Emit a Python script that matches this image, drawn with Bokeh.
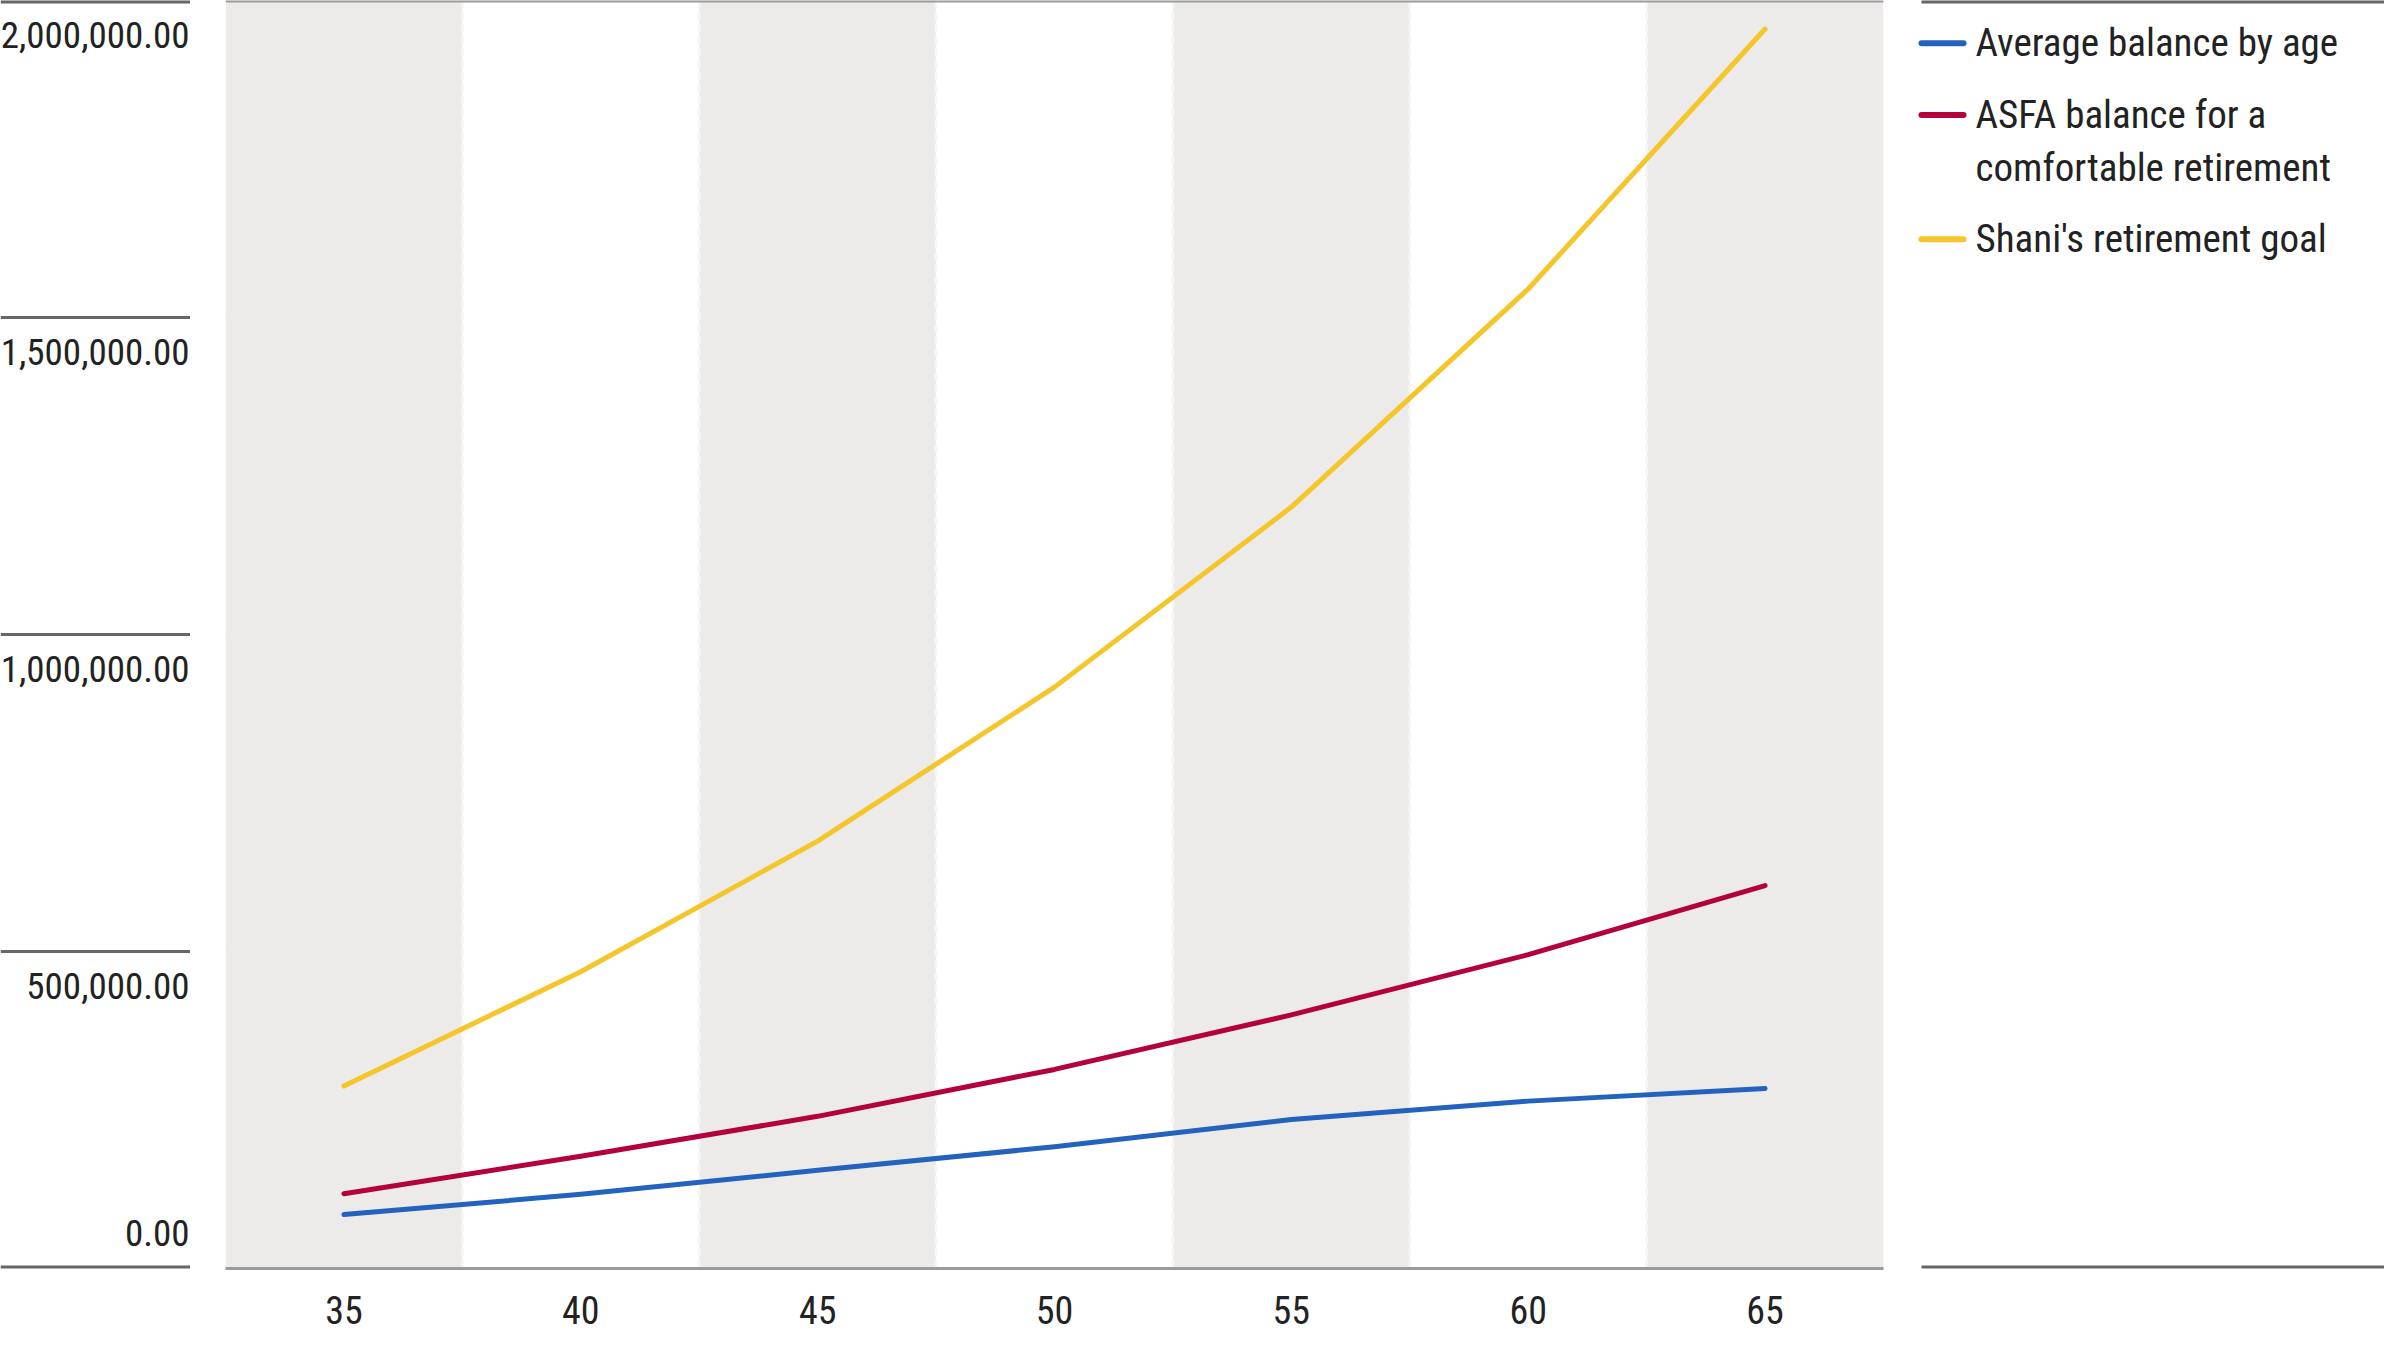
from bokeh.plotting import figure
from bokeh.layouts import row
from bokeh.models import Range1d, FixedTicker, Span, ColumnDataSource
from bokeh.core.properties import value
from bokeh.embed import file_html
from bokeh.resources import INLINE

FONT = "Roboto Condensed"

# ---- data ----
ages = [35, 40, 45, 50, 55, 60, 65]
avg_balance = [85000, 117000, 155000, 192000, 235000, 264000, 284000]
asfa_balance = [118000, 177000, 240000, 314000, 400000, 495000, 604000]
shani_goal = [288000, 468000, 674000, 917000, 1201000, 1545000, 1955000]

y_ticks = [0, 500000, 1000000, 1500000, 2000000]
y_tick_labels = [f"{v:,.2f}" for v in y_ticks]

series_names = ["Average balance by age",
                "ASFA balance for a\ncomfortable retirement",
                "Shani's retirement goal"]
series_values = [avg_balance, asfa_balance, shani_goal]
series_colors = ["#2363BE", "#B4003C", "#F5C62B"]

# ---- layout constants ----
H = 1334
BOTTOM = 66
Y_MAX = 2000000
yr = Range1d(0, Y_MAX)
TEXT_COLOR = "#222222"
RULE_COLOR = "#666666"

# ---- main plot ----
p = figure(width=1708, height=H, x_range=Range1d(32.5, 67.5), y_range=yr,
           y_axis_location=None, output_backend="svg", toolbar_location=None,
           min_border_left=35, min_border_right=15, min_border_top=0,
           min_border_bottom=BOTTOM)
p.outline_line_color = None
p.background_fill_color = "white"
p.border_fill_color = "white"
p.xgrid.visible = False
p.ygrid.ticker = FixedTicker(ticks=y_ticks[1:-1])
p.ygrid.grid_line_color = "#dedede"
p.ygrid.grid_line_dash = "6 5"
p.ygrid.grid_line_width = 2

band_src = ColumnDataSource(dict(
    left=[a - 2.5 for a in ages],
    right=[a + 2.5 for a in ages],
    color=["#ECEBE9" if i % 2 == 0 else "#FFFFFF" for i in range(len(ages))],
))
p.quad(left="left", right="right", bottom=0, top=Y_MAX, fill_color="color",
       line_color=None, source=band_src)

bounds = [a + 2.5 for a in ages[:-1]]
p.segment(x0=bounds, y0=[0] * len(bounds), x1=bounds, y1=[Y_MAX] * len(bounds),
          line_color="#F6F6F6", line_width=3, line_dash="8 4")

for vals, col in zip(series_values, series_colors):
    p.line(ages, vals, line_color=col, line_width=5, line_cap="round",
           line_join="round")

p.add_layout(Span(location=Y_MAX, dimension="width", line_color="#9b9b9b",
                  line_width=4))

p.xaxis.ticker = FixedTicker(ticks=ages)
p.xaxis.major_label_text_font = FONT
p.xaxis.major_label_text_font_size = "38px"
p.xaxis.major_label_text_color = TEXT_COLOR
p.xaxis.axis_line_color = "#9b9b9b"
p.xaxis.axis_line_width = 3
p.xaxis.major_tick_line_color = None
p.xaxis.minor_tick_line_color = None
p.xaxis.major_label_standoff = 21

# ---- y label column ----
pl = figure(width=190, height=H, x_range=Range1d(0, 190), y_range=yr,
            x_axis_location=None, y_axis_location=None,
            output_backend="svg", toolbar_location=None,
            min_border_left=0, min_border_right=0, min_border_top=0,
            min_border_bottom=BOTTOM)
pl.outline_line_color = None
pl.grid.visible = False
lab_src = ColumnDataSource(dict(
    y=y_ticks,
    label=y_tick_labels,
    lw=[6 if v in (0, Y_MAX) else 3 for v in y_ticks],
    yoff=[-36 if v == 0 else 34 for v in y_ticks],
))
pl.segment(x0=0, x1=190, y0="y", y1="y", line_color=RULE_COLOR,
           line_width="lw", source=lab_src)
pl.text(x=189, y="y", text="label", y_offset="yoff", text_align="right",
        text_baseline="alphabetic", text_font=value(FONT),
        text_font_size="37px", text_color=TEXT_COLOR, source=lab_src)

# ---- legend column ----
RW = 486
pr = figure(width=RW, height=H, x_range=Range1d(0, RW), y_range=Range1d(1274, 0),
            x_axis_location=None, y_axis_location=None,
            output_backend="svg", toolbar_location=None,
            min_border_left=0, min_border_right=0, min_border_top=0,
            min_border_bottom=BOTTOM)
pr.outline_line_color = None
pr.grid.visible = False
pr.segment(x0=[23, 23], x1=[RW, RW], y0=[0, 1274], y1=[0, 1274],
           line_color=RULE_COLOR, line_width=6)

item_y = [43, 115, 240]
LINE_STEP = 53
pr.segment(x0=[23] * 3, x1=[65] * 3, y0=item_y, y1=item_y,
           line_color=series_colors, line_width=6, line_cap="round")
tx, ty, tt = [], [], []
for name, y0 in zip(series_names, item_y):
    for k, part in enumerate(name.split("\n")):
        tx.append(77)
        ty.append(y0 + k * LINE_STEP)
        tt.append(part)
pr.text(x=tx, y=ty, text=tt, text_align="left", text_baseline="middle",
        text_font=value(FONT), text_font_size="39px", text_color=TEXT_COLOR)

layout = row(pl, p, pr)
open("out.html", "w").write(file_html(layout, INLINE))
